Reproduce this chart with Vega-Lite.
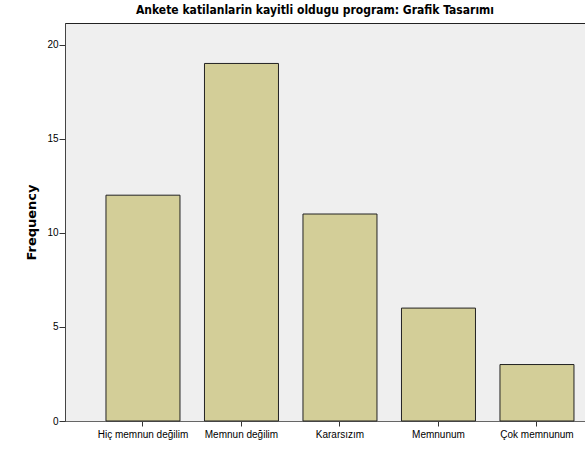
{
  "$schema": "https://vega.github.io/schema/vega-lite/v6.json",
  "width": 520,
  "height": 398,
  "autosize": {"type": "none"},
  "padding": {"left": 65, "top": 23, "right": 0, "bottom": 35},
  "background": "white",
  "title": {
    "text": "Ankete katilanlarin kayitli oldugu program: Grafik Tasarımı",
    "font": "DejaVu Sans Condensed, Liberation Sans Narrow",
    "fontSize": 12,
    "fontWeight": "bold",
    "color": "black",
    "anchor": "middle",
    "dx": -10,
    "offset": 6
  },
  "data": {
    "values": [
      {"category": "Hiç memnun değilim", "frequency": 12},
      {"category": "Memnun değilim", "frequency": 19},
      {"category": "Kararsızım", "frequency": 11},
      {"category": "Memnunum", "frequency": 6},
      {"category": "Çok memnunum", "frequency": 3}
    ]
  },
  "mark": {"type": "bar", "fill": "#D3CE98", "stroke": "#222", "strokeWidth": 1},
  "encoding": {
    "x": {
      "field": "category",
      "type": "nominal",
      "sort": null,
      "scale": {"paddingInner": 0.2487, "paddingOuter": 0.264, "align": 0.788},
      "axis": {
        "title": null,
        "labelAngle": 0,
        "labelFont": "Liberation Sans, Arial",
        "labelFontSize": 10,
        "labelColor": "black",
        "tickSize": 5,
        "tickColor": "#333",
        "domainColor": "#666",
        "labelPadding": 3
      }
    },
    "y": {
      "field": "frequency",
      "type": "quantitative",
      "scale": {"domain": [0, 21.15], "nice": false},
      "axis": {
        "title": "Frequency",
        "titleFont": "DejaVu Sans",
        "titleFontSize": 13,
        "titleFontWeight": "bold",
        "titleColor": "black",
        "titlePadding": 8,
        "values": [0, 5, 10, 15, 20],
        "grid": false,
        "labelFont": "Liberation Sans, Arial",
        "labelFontSize": 10,
        "labelColor": "black",
        "labelPadding": 1,
        "tickSize": 6,
        "tickColor": "#333",
        "domainColor": "#444"
      }
    }
  },
  "config": {
    "view": {"fill": "#EFEFEF", "stroke": "#222", "strokeWidth": 1}
  }
}
